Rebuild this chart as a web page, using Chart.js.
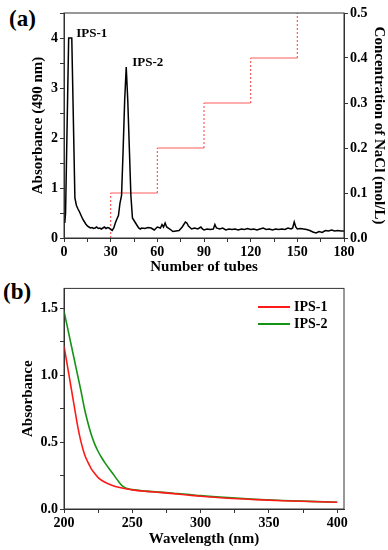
<!DOCTYPE html>
<html>
<head>
<meta charset="utf-8">
<script src="https://cdn.jsdelivr.net/npm/chart.js@4.4.0/dist/chart.umd.min.js"></script>
<style>
  body { margin: 0; background: #fff; width: 388px; height: 550px; position: relative; overflow: hidden; font-family: "Liberation Serif", "Times New Roman", serif; }
  canvas { position: absolute; left: 0; }
  #chartA { top: 0; }
  #chartB { top: 278px; }
  .panel { position: absolute; font-weight: bold; font-size: 23px; line-height: 1; }
  #legendB { position: absolute; left: 258px; top: 298px; font-weight: bold; font-size: 14px; }
  #legendB div { display: flex; align-items: center; height: 17px; }
  #legendB span.ln { display: inline-block; width: 32px; height: 2px; margin-right: 4px; }
</style>
</head>
<body>
<div class="panel" style="left:9px;top:7px">(a)</div>
<div class="panel" style="left:3px;top:280px">(b)</div>
<canvas id="chartA" width="388" height="278"></canvas>
<canvas id="chartB" width="388" height="272"></canvas>
<div id="legendB"></div>
<script>
// (a) elution profile, absorbance at 490 nm per tube
const tubes = [0.5, 1, 3, 5, 7,
  8, 9, 10, 11, 12, 13, 14, 15, 16, 17, 18, 19, 20, 21, 22, 23, 24, 25, 26, 27, 28, 29,
  30, 31, 32, 33, 34, 35, 36, 37, 38, 39, 40, 41, 42, 43, 44, 45, 46, 47, 48, 49, 50,
  52, 54, 56, 58, 60, 62, 63, 64, 65, 66, 68, 70, 72, 74, 76, 78, 79, 80, 82, 84, 86, 88, 89, 90,
  92, 94, 96, 97, 98, 100,
  102, 104, 106, 108, 110, 112, 114, 116, 118, 120, 122, 124, 126, 128, 130, 132, 134, 136, 138, 140, 142, 144, 146,
  147, 148, 149, 150,
  152, 154, 156, 158, 160, 162, 164, 166, 168, 170, 172, 174, 176, 178, 180];
const absorbance = [0.3, 0.5, 4.0, 4.0, 0.8,
  0.65, 0.58, 0.52, 0.45, 0.38, 0.33, 0.28, 0.24, 0.22, 0.2, 0.21, 0.19, 0.2, 0.22, 0.19, 0.2, 0.18, 0.2, 0.22, 0.19, 0.21, 0.2,
  0.17, 0.15, 0.2, 0.3, 0.38, 0.45, 0.7, 0.85, 1.75, 2.75, 3.42, 2.75, 1.8, 0.85, 0.4, 0.35, 0.3, 0.25, 0.2, 0.18, 0.2,
  0.19, 0.21, 0.2, 0.16, 0.22, 0.2, 0.27, 0.22, 0.3, 0.22, 0.18, 0.13, 0.14, 0.15, 0.22, 0.32, 0.3, 0.24, 0.18, 0.2, 0.18, 0.22, 0.18, 0.16,
  0.18, 0.17, 0.18, 0.27, 0.2, 0.18,
  0.2, 0.16, 0.18, 0.17, 0.18, 0.16, 0.18, 0.17, 0.19, 0.17, 0.18, 0.16, 0.18, 0.2, 0.17, 0.18, 0.16, 0.18, 0.17, 0.18, 0.17, 0.2, 0.18,
  0.2, 0.32, 0.22, 0.18,
  0.19, 0.18, 0.17, 0.15, 0.12, 0.1, 0.13, 0.11, 0.15, 0.14, 0.16, 0.14, 0.15, 0.14, 0.14];

// NaCl step gradient
const saltTubes = [30, 30, 60, 60, 90, 90, 120, 120, 150, 150];
const saltConc = [0, 0.1, 0.1, 0.2, 0.2, 0.3, 0.3, 0.4, 0.4, 0.5];

// peak labels
const peakNames = ['IPS-1', 'IPS-2'];
const peakTubes = [4, 40];
const peakValues = [4.0, 3.42];

// (b) UV spectra
const wavelengths = [200, 202.5, 205, 207.5, 210, 212.5, 215, 217.5, 220, 222.5, 225, 227.5, 230, 235, 240, 242.5, 245, 250,
  260, 270, 280, 290, 300, 320, 340, 360, 380, 400];
const ips1Abs = [1.22, 1.07, 0.92, 0.77, 0.62, 0.5, 0.41, 0.35, 0.3, 0.265, 0.235, 0.215, 0.2, 0.178, 0.162, 0.157, 0.152, 0.143,
  0.132, 0.124, 0.115, 0.105, 0.095, 0.08, 0.07, 0.062, 0.056, 0.05];
const ips2Abs = [1.48, 1.36, 1.24, 1.12, 1.0, 0.88, 0.75, 0.645, 0.555, 0.485, 0.43, 0.385, 0.345, 0.275, 0.205, 0.175, 0.158, 0.145,
  0.134, 0.126, 0.118, 0.11, 0.1, 0.085, 0.073, 0.064, 0.057, 0.05];

const FONT = '"Liberation Serif", "Times New Roman", serif';
const tickFont = { family: FONT, size: 14, weight: 'bold' };
const titleFont = { family: FONT, size: 15, weight: 'bold' };
const AXIS = '#333';

function fixSize(w, h) {
  return function (scale) {
    if (w !== null) scale.width = w;
    if (h !== null) scale.height = h;
  };
}

// box around the plot area
const frame = {
  id: 'frame',
  afterDatasetsDraw(chart) {
    const { ctx, chartArea: a } = chart;
    ctx.save();
    ctx.strokeStyle = AXIS;
    ctx.lineWidth = 1;
    ctx.strokeRect(a.left, a.top, a.right - a.left, a.bottom - a.top);
    ctx.restore();
  }
};

const peakLabels = {
  id: 'peakLabels',
  afterDatasetsDraw(chart) {
    const { ctx, scales } = chart;
    ctx.save();
    ctx.font = 'bold 13px ' + FONT;
    ctx.fillStyle = '#000';
    ctx.textBaseline = 'middle';
    peakNames.forEach((name, i) => {
      const x = scales.x.getPixelForValue(peakTubes[i]);
      const y = scales.y.getPixelForValue(peakValues[i]);
      ctx.fillText(name, x + 6, y - 4);
    });
    ctx.restore();
  }
};

Chart.defaults.font.family = FONT;
Chart.defaults.color = '#000';

const chartA = new Chart(document.getElementById('chartA'), {
  type: 'line',
  data: {
    datasets: [{
      label: 'Absorbance',
      data: tubes.map((t, i) => ({ x: t, y: absorbance[i] })),
      borderColor: '#000',
      borderWidth: 1.5,
      pointRadius: 0,
      yAxisID: 'y'
    }, {
      label: 'NaCl',
      data: saltTubes.map((t, i) => ({ x: t, y: saltConc[i] })),
      borderColor: '#ff5c5c',
      borderWidth: 1.2,
      pointRadius: 0,
      yAxisID: 'y2',
      segment: {
        borderDash: ctx => ctx.p0.parsed.x === ctx.p1.parsed.x ? [2, 2] : undefined
      }
    }]
  },
  options: {
    responsive: false,
    animation: false,
    layout: { padding: { left: 29, right: 0, top: 13, bottom: 2 } },
    plugins: { legend: { display: false }, tooltip: { enabled: false } },
    scales: {
      x: {
        type: 'linear', min: 0, max: 180,
        afterFit: fixSize(null, 38),
        border: { color: AXIS },
        grid: { drawOnChartArea: false, tickLength: 4, color: AXIS },
        ticks: {
          stepSize: 15, autoSkip: false, includeBounds: false, maxRotation: 0, font: tickFont, padding: 2,
          callback: v => v % 30 === 0 ? v : ''
        },
        title: { display: true, text: 'Number of tubes', font: titleFont, padding: 0 }
      },
      y: {
        position: 'left', min: 0, max: 4.5,
        afterFit: fixSize(35, null),
        border: { color: AXIS },
        grid: { drawOnChartArea: false, tickLength: 4, color: AXIS },
        ticks: {
          stepSize: 0.5, autoSkip: false, includeBounds: false, font: tickFont, padding: 2,
          callback: v => Number.isInteger(v) ? v : ''
        },
        title: { display: true, text: 'Absorbance (490 nm)', font: titleFont, padding: 0 }
      },
      y2: {
        position: 'right', min: 0, max: 0.5,
        afterFit: fixSize(44, null),
        border: { color: AXIS },
        grid: { drawOnChartArea: false, tickLength: 4, color: AXIS },
        ticks: {
          stepSize: 0.1, autoSkip: false, font: tickFont, padding: 2,
          callback: v => v.toFixed(1)
        },
        title: { display: true, text: 'Concentration of NaCl (mol/L)', font: titleFont, padding: 0 }
      }
    }
  },
  plugins: [frame, peakLabels]
});

const chartB = new Chart(document.getElementById('chartB'), {
  type: 'line',
  data: {
    datasets: [{
      label: 'IPS-1',
      data: wavelengths.map((w, i) => ({ x: w, y: ips1Abs[i] })),
      borderColor: '#ff1a1a',
      borderWidth: 1.6,
      pointRadius: 0,
      cubicInterpolationMode: 'monotone'
    }, {
      label: 'IPS-2',
      data: wavelengths.map((w, i) => ({ x: w, y: ips2Abs[i] })),
      borderColor: '#149414',
      borderWidth: 1.6,
      pointRadius: 0,
      cubicInterpolationMode: 'monotone'
    }]
  },
  options: {
    responsive: false,
    animation: false,
    layout: { padding: { left: 19, right: 44, top: 6, bottom: 2 } },
    plugins: { legend: { display: false }, tooltip: { enabled: false } },
    scales: {
      x: {
        type: 'linear', min: 200, max: 405,
        afterFit: fixSize(null, 39),
        border: { color: AXIS },
        grid: { drawOnChartArea: false, tickLength: 4, color: AXIS },
        ticks: {
          stepSize: 25, autoSkip: false, includeBounds: false, maxRotation: 0, font: tickFont, padding: 2,
          callback: v => v % 50 === 0 ? v : ''
        },
        title: { display: true, text: 'Wavelength (nm)', font: titleFont, padding: 0 }
      },
      y: {
        min: 0, max: 1.65,
        afterFit: fixSize(45, null),
        border: { color: AXIS },
        grid: { drawOnChartArea: false, tickLength: 4, color: AXIS },
        ticks: {
          stepSize: 0.25, autoSkip: false, includeBounds: false, font: tickFont, padding: 2,
          callback: v => Math.abs(v * 2 - Math.round(v * 2)) < 1e-6 ? v.toFixed(1) : ''
        },
        title: { display: true, text: 'Absorbance', font: titleFont, padding: 0 }
      }
    }
  },
  plugins: [frame]
});

// legend for (b), built from the chart's datasets
const legendB = document.getElementById('legendB');
chartB.data.datasets.forEach(ds => {
  const row = document.createElement('div');
  const ln = document.createElement('span');
  ln.className = 'ln';
  ln.style.background = ds.borderColor;
  row.appendChild(ln);
  row.appendChild(document.createTextNode(ds.label));
  legendB.appendChild(row);
});
</script>
</body>
</html>
